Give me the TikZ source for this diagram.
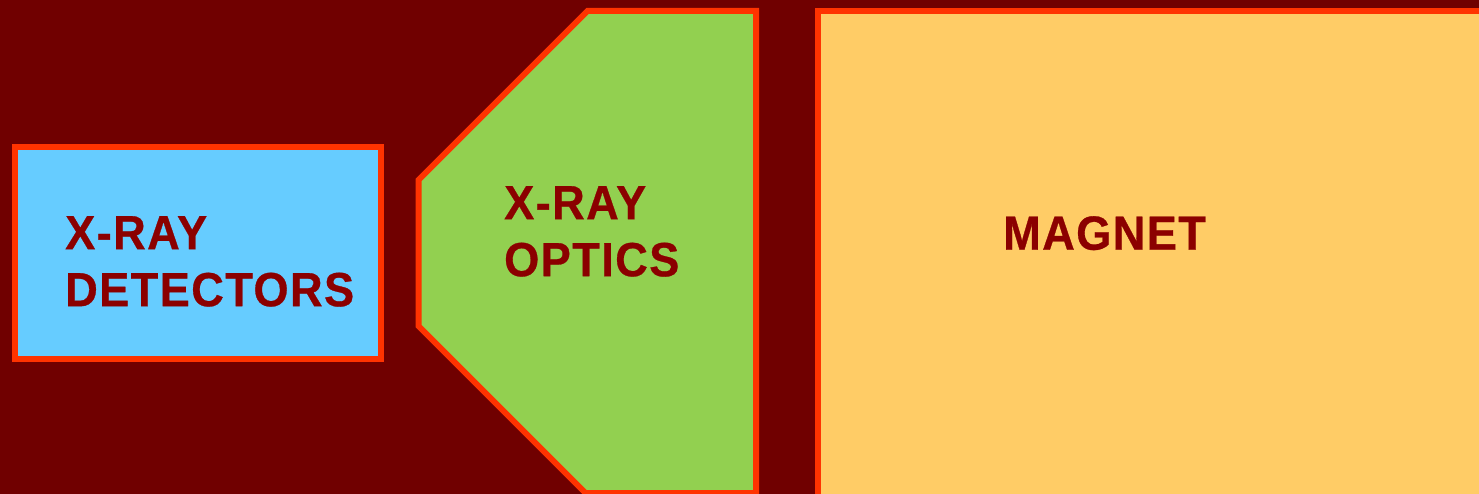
\documentclass[tikz,border=0pt]{standalone}
\usepackage{fontspec}
\setmainfont{Liberation Sans}
\newfontfamily\lblfont[FakeStretch=0.94,LetterSpace=3,FakeBold=0.6]{Liberation Sans Bold}
\definecolor{bgred}{HTML}{700000}
\definecolor{edge}{HTML}{FF3300}
\definecolor{detblue}{HTML}{66CCFF}
\definecolor{optgreen}{HTML}{92D050}
\definecolor{magyellow}{HTML}{FFCC66}
\definecolor{txtred}{HTML}{8B0000}
\begin{document}
\begin{tikzpicture}[x=1pt,y=-1pt,
  part/.style={draw=edge,line width=6pt,line join=miter},
  lbl/.style={text=txtred,font=\fontsize{48}{57}\lblfont,align=left,inner sep=0pt,anchor=north west}]
\useasboundingbox (0,0) rectangle (1479,494);
\clip (0,0) rectangle (1479,494);
\fill[bgred] (0,0) rectangle (1479,494);
% detectors
\draw[part,fill=detblue] (15,147) rectangle (381,359);
% optics
\draw[part,fill=optgreen] (418.5,180) -- (587.5,11) -- (756,11) -- (756,493) -- (585.5,493) -- (418.5,326) -- cycle;
% magnet
\draw[part,fill=magyellow] (817.5,11) rectangle (1520,530);
\node[lbl] (tdet) at (65,216) {X-RAY\\DETECTORS};
\node[lbl] (topt) at (504,186) {X-RAY\\OPTICS};
\node[lbl] (tmag) at (1003,216) {MAGNET};
\end{tikzpicture}
\end{document}
